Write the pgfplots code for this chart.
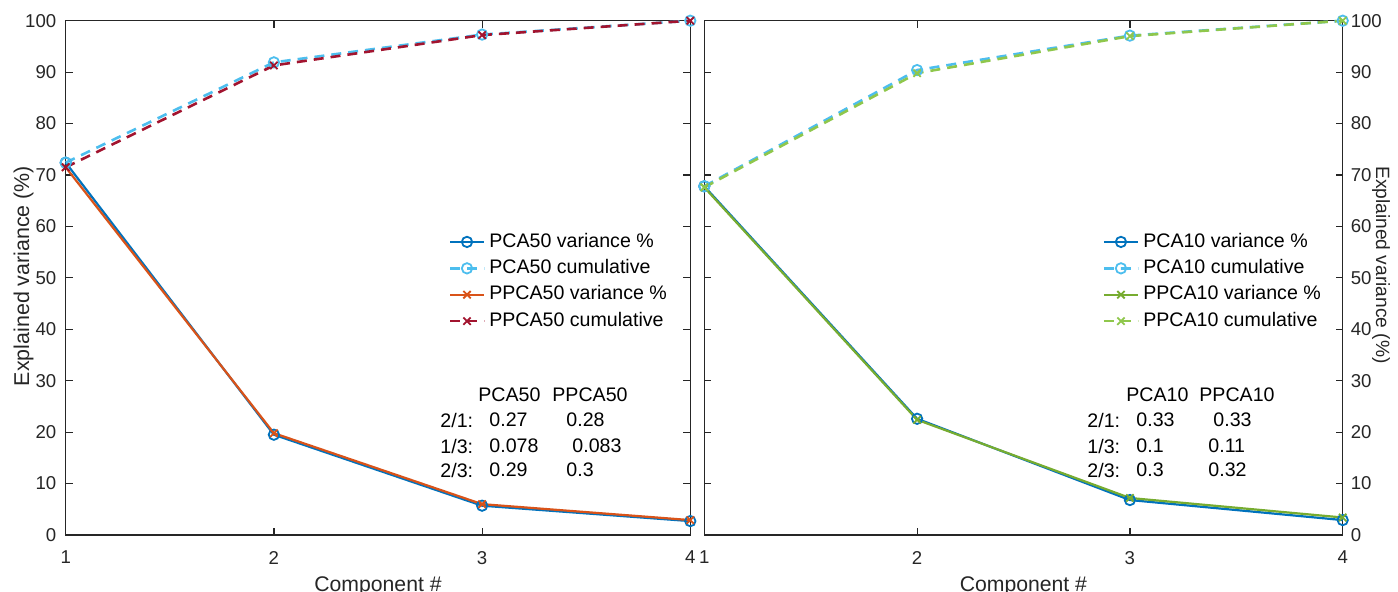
\documentclass[border=0pt]{standalone}
\usepackage{fontspec}
\setmainfont{Liberation Sans}
\usepackage{pgfplots}
\pgfplotsset{compat=1.18}
\definecolor{mblue}{rgb}{0,0.447,0.741}
\definecolor{mlblue}{rgb}{0.302,0.745,0.933}
\definecolor{morange}{rgb}{0.85,0.325,0.098}
\definecolor{mred}{rgb}{0.635,0.078,0.184}
\definecolor{mgreen}{rgb}{0.466,0.674,0.188}
\definecolor{mlgreen}{rgb}{0.56,0.78,0.30}
\definecolor{axgray}{gray}{0.15}
\pgfplotsset{
 base/.style={
  scale only axis, height=257.15bp,
  xmin=1, xmax=4, ymin=0, ymax=100,
  xtick={1,2,3,4}, ytick={0,10,...,100},
  tick align=inside, major tick length=3.5bp,
  axis line style={axgray, line width=0.6bp},
  tick style={axgray, line width=0.6bp},
  ticklabel style={font=\fontsize{9.3bp}{11bp}\selectfont, text=axgray},
  xticklabel style={yshift=-4.5bp},
  /pgf/number format/assume math mode=true,
  clip=false,
  legend cell align=left,
  legend style={draw=none, fill=none, font=\fontsize{9.8bp}{11bp}\selectfont,
    text=black, row sep=0pt, anchor=north west,
    nodes={text height=7.2bp, text depth=2bp, inner sep=2bp}},
 },
 var/.style={solid, line width=1.1bp, mark options={solid, line width=0.9bp}},
 cum/.style={line width=1.3bp, dash pattern=on 5bp off 3.5bp, mark options={solid, line width=0.9bp}},
}
\begin{document}
\begin{tikzpicture}
\path[use as bounding box] (0,0) rectangle (699bp,296bp);
% left axis
\begin{axis}[base, at={(32.85bp,28.5bp)}, anchor=south west, width=312.3bp,
  yticklabel style={xshift=-1.2bp},
  legend style={at={(axis description cs:0.603,0.604)}}]
\addplot[var, color=mblue, mark=o, mark size=2.6bp] coordinates {(1,72.4) (2,19.5) (3,5.7) (4,2.7)};
\addlegendentry{PCA50 variance \%}
\addplot[cum, color=mlblue, mark=o, mark size=2.6bp] coordinates {(1,72.4) (2,91.9) (3,97.3) (4,100)};
\addlegendentry{PCA50 cumulative}
\addplot[var, color=morange, mark=x, mark size=2.6bp] coordinates {(1,71.5) (2,19.8) (3,6.0) (4,2.9)};
\addlegendentry{PPCA50 variance \%}
\addplot[cum, color=mred, mark=x, mark size=2.6bp] coordinates {(1,71.5) (2,91.3) (3,97.2) (4,100)};
\addlegendentry{PPCA50 cumulative}
\end{axis}
% right axis
\begin{axis}[base, at={(352.15bp,28.5bp)}, anchor=south west, width=319.2bp,
  yticklabel pos=right, yticklabel style={xshift=0.5bp},
  legend style={at={(axis description cs:0.614,0.604)}}]
\addplot[var, color=mblue, mark=o, mark size=2.6bp] coordinates {(1,67.8) (2,22.6) (3,6.8) (4,2.9)};
\addlegendentry{PCA10 variance \%}
\addplot[cum, color=mlblue, mark=o, mark size=2.6bp] coordinates {(1,67.8) (2,90.4) (3,97.1) (4,100)};
\addlegendentry{PCA10 cumulative}
\addplot[var, color=mgreen, mark=x, mark size=2.6bp] coordinates {(1,67.6) (2,22.4) (3,7.2) (4,3.4)};
\addlegendentry{PPCA10 variance \%}
\addplot[cum, color=mlgreen, mark=x, mark size=2.6bp] coordinates {(1,67.6) (2,89.8) (3,97.0) (4,100)};
\addlegendentry{PPCA10 cumulative}
\end{axis}
% axis labels
\node[anchor=base, font=\fontsize{10.6bp}{12bp}\selectfont, text=axgray, inner sep=0pt] at (189bp,0.5bp) {Component \#};
\node[anchor=base, font=\fontsize{10.6bp}{12bp}\selectfont, text=axgray, inner sep=0pt] at (511.7bp,0.5bp) {Component \#};
\node[anchor=base, rotate=90, font=\fontsize{10.7bp}{12bp}\selectfont, text=axgray, inner sep=0pt] at (14.5bp,158bp) {Explained variance (\%)};
\node[anchor=base, rotate=-90, font=\fontsize{9.6bp}{12bp}\selectfont, text=axgray, inner sep=0pt] at (688bp,163.5bp) {Explained variance (\%)};
% ratio tables
\begin{scope}[every node/.style={anchor=west, inner sep=0pt, font=\fontsize{9.8bp}{11bp}\selectfont}]
\node at (239bp,98.5bp) {PCA50};
\node at (276bp,98.5bp) {PPCA50};
\node at (220bp,86bp) {2/1:};
\node at (244.5bp,86bp) {0.27};
\node at (283bp,86bp) {0.28};
\node at (220bp,73bp) {1/3:};
\node at (244.5bp,73bp) {0.078};
\node at (286bp,73bp) {0.083};
\node at (220bp,61bp) {2/3:};
\node at (244.5bp,61bp) {0.29};
\node at (283bp,61bp) {0.3};
\node at (563bp,98.5bp) {PCA10};
\node at (599.5bp,98.5bp) {PPCA10};
\node at (543.5bp,86bp) {2/1:};
\node at (568bp,86bp) {0.33};
\node at (606.5bp,86bp) {0.33};
\node at (543.5bp,73bp) {1/3:};
\node at (568bp,73bp) {0.1};
\node at (604bp,73bp) {0.11};
\node at (543.5bp,61bp) {2/3:};
\node at (568bp,61bp) {0.3};
\node at (604bp,61bp) {0.32};
\end{scope}
\end{tikzpicture}
\end{document}
